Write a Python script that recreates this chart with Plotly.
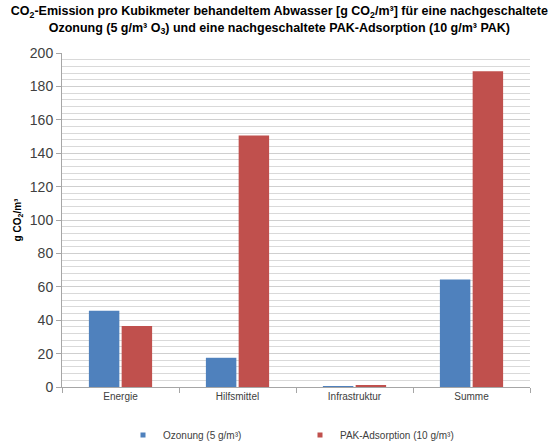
import plotly.graph_objects as go

categories = ["Energie", "Hilfsmittel", "Infrastruktur", "Summe"]
ozonung = [45.6, 17.5, 0.3, 64.3]
pak = [36.6, 150.6, 1.1, 189.0]
series_names = ["Ozonung (5 g/m³)", "PAK-Adsorption (10 g/m³)"]
series_colors = ["#4F81BD", "#C0504D"]
y_ticks = [0, 20, 40, 60, 80, 100, 120, 140, 160, 180, 200]

fig = go.Figure()
for name, vals, color in zip(series_names, [ozonung, pak], series_colors):
    fig.add_trace(go.Bar(x=categories, y=vals, name=name, legendgroup=name,
                         showlegend=False,
                         marker=dict(color=color, line=dict(width=0))))
    # small square legend key
    fig.add_trace(go.Scatter(x=[None], y=[None], mode="markers", name=name,
                             legendgroup=name, showlegend=True,
                             marker=dict(symbol="square", size=5, color=color)))

font_family = "Liberation Sans, Arial, sans-serif"

fig.update_layout(
    width=551, height=442,
    margin=dict(l=62, r=21, t=53, b=55),
    paper_bgcolor="white", plot_bgcolor="white",
    barmode="group", bargap=0.44, bargroupgap=0.07,
    font=dict(family=font_family, color="#404040"),
    title=dict(
        text="<b>CO<sub>2</sub>-Emission pro Kubikmeter behandeltem Abwasser [g CO<sub>2</sub>/m³] für eine nachgeschaltete<br>"
             "Ozonung (5 g/m³ O<sub>3</sub>) und eine nachgeschaltete PAK-Adsorption (10 g/m³ PAK)</b>",
        x=0.507, xref="container", xanchor="center", y=0.965, yref="container", yanchor="top",
        font=dict(size=12.5, color="#000000", family=font_family),
    ),
    showlegend=True,
    legend=dict(orientation="h", x=123 / 551, xanchor="left", xref="container",
                y=7 / 442, yanchor="middle", yref="container",
                font=dict(size=10, color="#404040"), itemwidth=30,
                entrywidth=132, entrywidthmode="pixels",
                tracegroupgap=0, traceorder="normal"),
)

fig.update_yaxes(
    range=[0, 200], tickvals=y_ticks,
    tickfont=dict(size=14, color="#404040"),
    showgrid=True, gridcolor="#CFCFCF", gridwidth=1,
    minor=dict(dtick=4, showgrid=True, gridcolor="#D9D9D9", gridwidth=1),
    showline=True, linecolor="#A6A6A6", linewidth=1,
    ticks="outside", ticklen=5, tickcolor="#A6A6A6",
    zeroline=False,
    title=dict(text="<b>g CO<sub>2</sub>/m³</b>", font=dict(size=10, color="#000000"), standoff=6),
)
fig.update_xaxes(
    tickfont=dict(size=10, color="#404040"),
    showline=True, linecolor="#A6A6A6", linewidth=1,
    ticks="outside", ticklen=5, tickcolor="#A6A6A6", tickson="boundaries",
    showgrid=False,
)

fig.write_html("out.html")
